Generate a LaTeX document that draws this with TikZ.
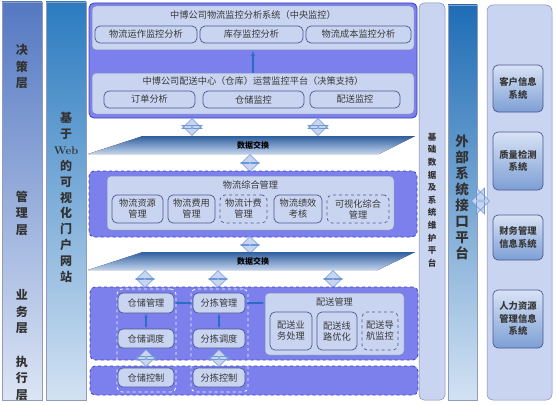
\documentclass[tikz,border=0pt]{standalone}
\usepackage{fontspec}
\newfontfamily\cjk{Noto Sans CJK SC}
\usepackage{xcolor}
\usepackage{tikz}
\usetikzlibrary{arrows.meta,positioning,shapes.arrows}

\definecolor{laypurple}{HTML}{7B80EC}
\definecolor{layedge}{HTML}{3A3FC4}
\definecolor{boxfill}{HTML}{C9D4F0}
\definecolor{boxedge}{HTML}{4A5890}
\definecolor{linkblue}{HTML}{2B6CC4}
\definecolor{bandtop}{HTML}{2F5E9E}
\definecolor{bandbot}{HTML}{C3D4EE}
\definecolor{coltop}{HTML}{5478C2}
\definecolor{colbot}{HTML}{DCE5F5}
\definecolor{webtop}{HTML}{2B7BC0}
\definecolor{webbot}{HTML}{D2E2F3}
\definecolor{exttop}{HTML}{1E6DB5}
\definecolor{systop}{HTML}{D8E2F5}
\definecolor{sysbot}{HTML}{7D9FD5}
\definecolor{txt}{HTML}{383838}

\begin{document}
\begin{tikzpicture}[
  x=1pt, y=-1pt,
  every node/.style={font=\cjk\fontsize{9.2}{11}\selectfont, text=txt, inner sep=1pt},
  layer/.style={draw=layedge, fill=laypurple, rounded corners=5pt, line width=0.8pt},
  dashlayer/.style={layer, dashed},
  panel/.style={draw=boxedge!70, fill=boxfill, rounded corners=4pt, line width=0.5pt},
  item/.style={panel, rounded corners=5pt, line width=0.7pt, draw=boxedge, align=center},
  dashitem/.style={item, dashed},
  colframe/.style={draw=white, dashed, rounded corners=5pt, line width=0.8pt},
  colbar/.style={draw=boxedge!60, line width=0.5pt},
  vlabel/.style={align=center, font=\cjk\bfseries\fontsize{12}{16.5}\selectfont, text=black!80},
  bandtext/.style={font=\cjk\bfseries\fontsize{8}{9}\selectfont, text=black},
  sysbox/.style={item, top color=systop, bottom color=sysbot, minimum width=50,
    font=\cjk\bfseries\fontsize{9.3}{12.5}\selectfont},
  dbl/.style={double arrow, rotate=90, fill=boxfill, draw=linkblue!70, line width=0.6pt,
    double arrow head extend=4pt, minimum height=17, minimum width=19, inner sep=0pt},
  link/.style={{Latex[length=4pt]}-{Latex[length=4pt]}, linkblue, line width=1.2pt},
  uplink/.style={-{Latex[length=6pt]}, linkblue, line width=1.6pt}
]
\useasboundingbox (0,0) rectangle (556,404);

% left columns
\node[colbar, top color=coltop, bottom color=colbot, minimum width=40, minimum height=398] (levels) at (22,201) {};
\node[vlabel] (lv1) at (22,67) {决\\策\\层};
\node[vlabel] (lv2) at (22,213) {管\\理\\层};
\node[vlabel] (lv3) at (22,312) {业\\务\\层};
\node[vlabel] (lv4) at (22,378) {执\\行\\层};

\node[colbar, top color=webtop, bottom color=webbot, minimum width=40, minimum height=398] (portal) at (66,201) {};
\node[vlabel, font=\cjk\bfseries\fontsize{12}{15.9}\selectfont] (portalT) at (66,197.5)
  {基\\于\\{\rmfamily\bfseries\fontsize{11}{12}\selectfont Web}\\的\\可\\视\\化\\门\\户\\网\\站};

% decision layer
\node[layer, minimum width=328, minimum height=115] (decision) at (253,60.5) {};
\node[panel, minimum width=322, minimum height=44] (central) at (253,28) {};
\node (centralT) at (253,15) {中博公司物流监控分析系统（中央监控）};
\node[item, minimum width=102, minimum height=17] (c1) at (146,34.5) {物流运作监控分析};
\node[item, minimum width=103, minimum height=17] (c2) at (251.5,34.5) {库存监控分析};
\node[item, minimum width=105, minimum height=17] (c3) at (358.5,34.5) {物流成本监控分析};

\node[panel, minimum width=322, minimum height=41] (dc) at (253,93.5) {};
\node (dcT) at (253,81) {中博公司配送中心（仓库）运营监控平台（决策支持）};
\node[item, minimum width=91, minimum height=17] (d1) at (149.5,99.5) {订单分析};
\node[item, minimum width=101, minimum height=17] (d2) at (253.5,99.5) {仓储监控};
\node[item, minimum width=90, minimum height=17] (d3) at (355,99.5) {配送监控};
\draw[uplink] (dc.north) -- (central.south);

% data exchange 1
\node[dbl, minimum width=20] (x1a) at (192,127) {};
\node[dbl, minimum width=20] (x1b) at (318,127) {};
\fill[top color=bandtop, bottom color=bandbot] (88,154) -- (143,136) -- (415,136) -- (379,154) -- cycle;
\node[bandtext] (xch1) at (253,145) {数据交换};
\node[dbl, minimum width=18] (x1c) at (250,163) {};

% management layer
\node[dashlayer, minimum width=328, minimum height=66] (mgmt) at (253,204) {};
\node[panel, minimum width=287, minimum height=54] (logi) at (250.5,203) {};
\node (logiT) at (250.5,185) {物流综合管理};
\node[item, minimum width=51, minimum height=28] (g1) at (137.5,209) {物流资源\\管理};
\node[item, minimum width=47, minimum height=28] (g2) at (191.5,209) {物流费用\\管理};
\node[dashitem, minimum width=47, minimum height=28] (g3) at (243.5,209) {物流计费\\管理};
\node[item, minimum width=48, minimum height=28] (g4) at (298,209) {物流绩效\\考核};
\node[dashitem, minimum width=62, minimum height=28] (g5) at (358,209) {可视化综合\\管理};

% data exchange 2
\node[dbl, minimum width=18] (x2a) at (250,245) {};
\fill[top color=bandtop, bottom color=bandbot] (88,270) -- (143,252) -- (415,252) -- (378,270) -- cycle;
\node[bandtext] (xch2) at (253,261) {数据交换};
\node[dbl, minimum width=18] (x2b) at (145,279) {};
\node[dbl, minimum width=18] (x2c) at (218,279) {};
\node[dbl, minimum width=18] (x2d) at (333,279) {};

% business and execution layers
\node[dashlayer, minimum width=328, minimum height=73] (biz) at (254,323.5) {};
\node[dashlayer, minimum width=328, minimum height=29] (exec) at (254,380.5) {};
\node[colframe, minimum width=59, minimum height=103] (wcol) at (146.5,340.5) {};
\node[colframe, minimum width=57, minimum height=103] (scol) at (219.5,340.5) {};

\node[item, minimum width=56, minimum height=20] (w1) at (146,303) {仓储管理};
\node[item, minimum width=56, minimum height=19] (w2) at (146,338.5) {仓储调度};
\node[item, minimum width=56, minimum height=19] (w3) at (146,377.5) {仓储控制};
\node[item, minimum width=52, minimum height=20] (s1) at (219,303) {分拣管理};
\node[item, minimum width=52, minimum height=19] (s2) at (219,338.5) {分拣调度};
\node[item, minimum width=52, minimum height=19] (s3) at (219,377.5) {分拣控制};

\node[panel, minimum width=139, minimum height=62] (ps) at (334.5,324) {};
\node (psT) at (334.5,302) {配送管理};
\node[item, minimum width=42, minimum height=38] (p1) at (291,331) {配送业\\务处理};
\node[item, minimum width=40, minimum height=38] (p2) at (337,331) {配送线\\路优化};
\node[dashitem, minimum width=36, minimum height=38] (p3) at (380,331) {配送导\\航监控};

\draw[link] (w1) -- (s1);
\draw[link] (s1.east) -- (s1.east -| ps.west);
\draw[link] (w1) -- (w2);
\draw[link] (s1) -- (s2);
\node[dbl, minimum width=20] (wx) at (146,358) {};
\node[dbl, minimum width=20] (sx) at (219,358) {};

% right columns
\node[panel, rounded corners=5pt, minimum width=26, minimum height=397] (base) at (432,201.5) {};
\node[vlabel, font=\cjk\bfseries\fontsize{8.5}{12.6}\selectfont] (baseT) at (432,200)
  {基\\础\\数\\据\\及\\系\\统\\维\\护\\平\\台};
\node[colbar, top color=exttop, bottom color=webbot, minimum width=29, minimum height=395] (ext) at (462.5,202.5) {};
\node[vlabel, font=\cjk\bfseries\fontsize{13.5}{16}\selectfont] (extT) at (462,197.5)
  {外\\部\\系\\统\\接\\口\\平\\台};
\node[panel, rounded corners=6pt, minimum width=65, minimum height=395] (extsys) at (519.5,202.5) {};
\node[dbl, rotate=-90, minimum width=26, minimum height=18] (extlink) at (480.5,201) {};

\node[sysbox, minimum height=47] (e1) at (518,88.5) {客户信息\\系统};
\node[sysbox, minimum height=58] (e2) at (518,161) {质量检测\\系统};
\node[sysbox, minimum height=45] (e3) at (518,237.5) {财务管理\\信息系统};
\node[sysbox, minimum height=58] (e4) at (518,319) {人力资源\\管理信息\\系统};
\end{tikzpicture}
\end{document}
